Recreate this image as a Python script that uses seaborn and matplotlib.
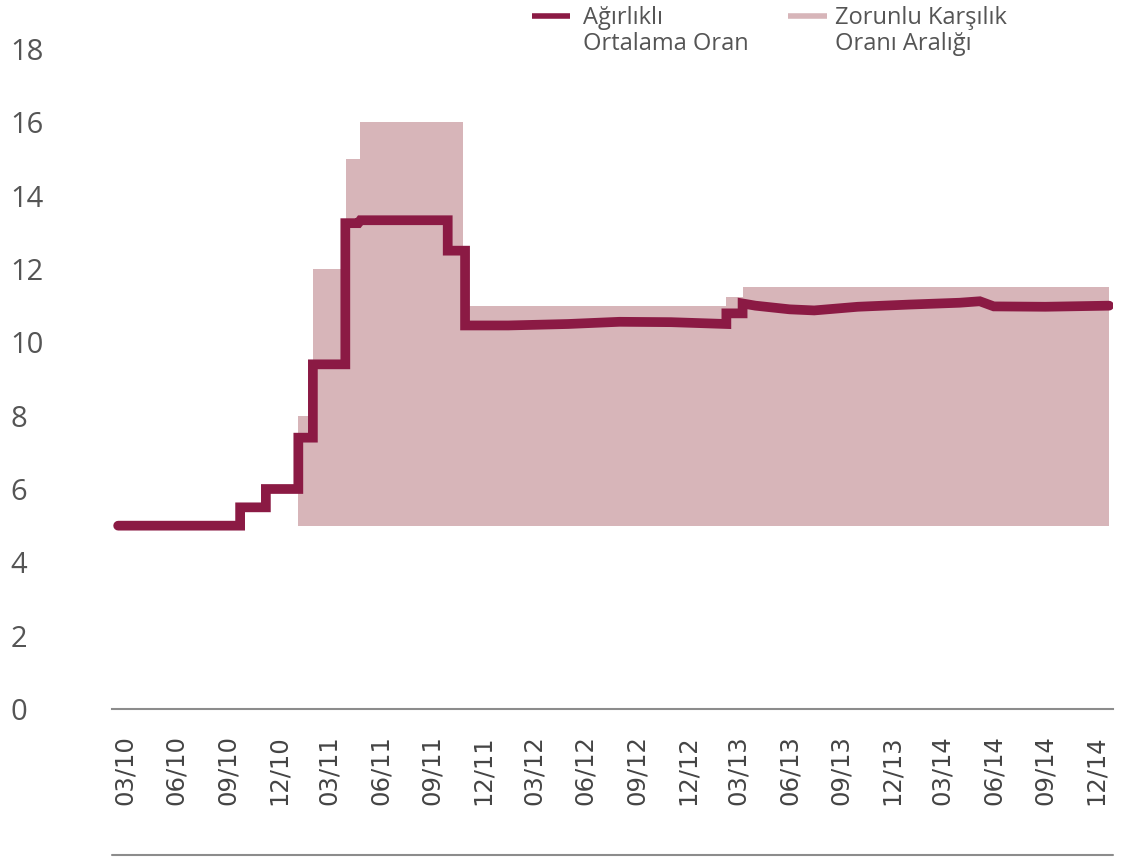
import matplotlib
matplotlib.use("Agg")
import matplotlib.pyplot as plt
from matplotlib.lines import Line2D
import pandas as pd
import seaborn as sns

# Weighted average required reserve ratio (%); a repeated date marks a vertical step
avg_dates = [
    "2010-02-17", "2010-09-23", "2010-09-23", "2010-11-08", "2010-11-08",
    "2011-01-05", "2011-01-05", "2011-01-31", "2011-01-31", "2011-03-30",
    "2011-03-30", "2011-04-22", "2011-04-26", "2011-09-29", "2011-09-29",
    "2011-10-30", "2011-10-30", "2012-01-15", "2012-05-01", "2012-08-01",
    "2012-11-01", "2013-02-08", "2013-02-08", "2013-03-09", "2013-03-09",
    "2013-04-01", "2013-06-01", "2013-07-15", "2013-10-01", "2014-01-01",
    "2014-04-01", "2014-05-07", "2014-06-01", "2014-09-01", "2014-12-24",
]
avg_values = [
    5.0, 5.0, 5.5, 5.5, 6.0,
    6.0, 7.4, 7.4, 9.4, 9.4,
    13.25, 13.25, 13.33, 13.33, 12.5,
    12.5, 10.46, 10.46, 10.50, 10.56,
    10.55, 10.50, 10.79, 10.79, 11.06,
    11.00, 10.90, 10.87, 10.97, 11.03,
    11.08, 11.12, 10.98, 10.97, 11.00,
]

# Required reserve ratio band (%), step changes
band_dates = [
    "2011-01-05", "2011-02-01", "2011-04-01", "2011-04-26",
    "2011-10-26", "2013-02-08", "2013-03-09", "2014-12-24",
]
band_lower = [5.0, 5.0, 5.0, 5.0, 5.0, 5.0, 5.0, 5.0]
band_upper = [8.0, 12.0, 15.0, 16.0, 11.0, 11.25, 11.5, 11.5]

tick_dates = pd.date_range("2010-03-01", "2014-12-01", freq="3MS")
tick_labels = [d.strftime("%m/%y") for d in tick_dates]
y_ticks = list(range(0, 19, 2))
legend_labels = ["Ağırlıklı\nOrtalama Oran", "Zorunlu Karşılık\nOranı Aralığı"]

LINE = "#8B1A44"
BAND = "#D7B5B9"
TEXT = "#555555"
AXIS = "#8C8C8C"

sns.set_theme(style="white")
plt.rcParams["font.family"] = ["Open Sans", "DejaVu Sans"]

W, H = 1124, 858
fig = plt.figure(figsize=(W / 100, H / 100), dpi=100)
ax = fig.add_axes([112 / W, (H - 709) / H, 1001 / W, (709 - 27) / H])

band = pd.DataFrame({
    "date": pd.to_datetime(band_dates),
    "low": band_lower,
    "high": band_upper,
})
ax.fill_between(band["date"], band["low"], band["high"], step="post",
                color=BAND, lw=0, zorder=1)

avg = pd.DataFrame({"date": pd.to_datetime(avg_dates), "rate": avg_values})
sns.lineplot(data=avg, x="date", y="rate", estimator=None, sort=False,
             color=LINE, lw=7, ax=ax, zorder=3,
             solid_capstyle="round", solid_joinstyle="miter")

ax.set_xlim(pd.Timestamp("2010-02-06"), pd.Timestamp("2014-12-31"))
ax.set_ylim(0, 18.6)
ax.set_xlabel("")
ax.set_ylabel("")

ax.set_xticks(tick_dates, labels=tick_labels, rotation=90,
              fontfamily="DejaVu Sans", fontsize=17.5, color="#444444")
ax.tick_params(axis="x", length=0, pad=19)

ax.set_yticks(y_ticks, labels=[str(v) for v in y_ticks],
              fontsize=21, color=TEXT, ha="left")
ax.tick_params(axis="y", length=0, pad=73)

for side in ("top", "right", "left"):
    ax.spines[side].set_visible(False)
ax.spines["bottom"].set_color(AXIS)
ax.spines["bottom"].set_linewidth(1.5)

# bottom rule under the date labels
fig.add_artist(Line2D([112 / W, 1113 / W], [1 - 855 / H] * 2,
                      color=AXIS, lw=1.5))

# legend
for (x0, x1, tx), color, label in zip(
        [(532, 570, 583), (788, 827, 835)], [LINE, BAND], legend_labels):
    fig.add_artist(Line2D([x0 / W, x1 / W], [1 - 16 / H] * 2,
                          color=color, lw=4, solid_capstyle="butt"))
    fig.text(tx / W, 1 - 6 / H, label, ha="left", va="top",
             fontsize=17, color=TEXT, linespacing=1.1)

fig.savefig("out.png", dpi=100, facecolor="white")
